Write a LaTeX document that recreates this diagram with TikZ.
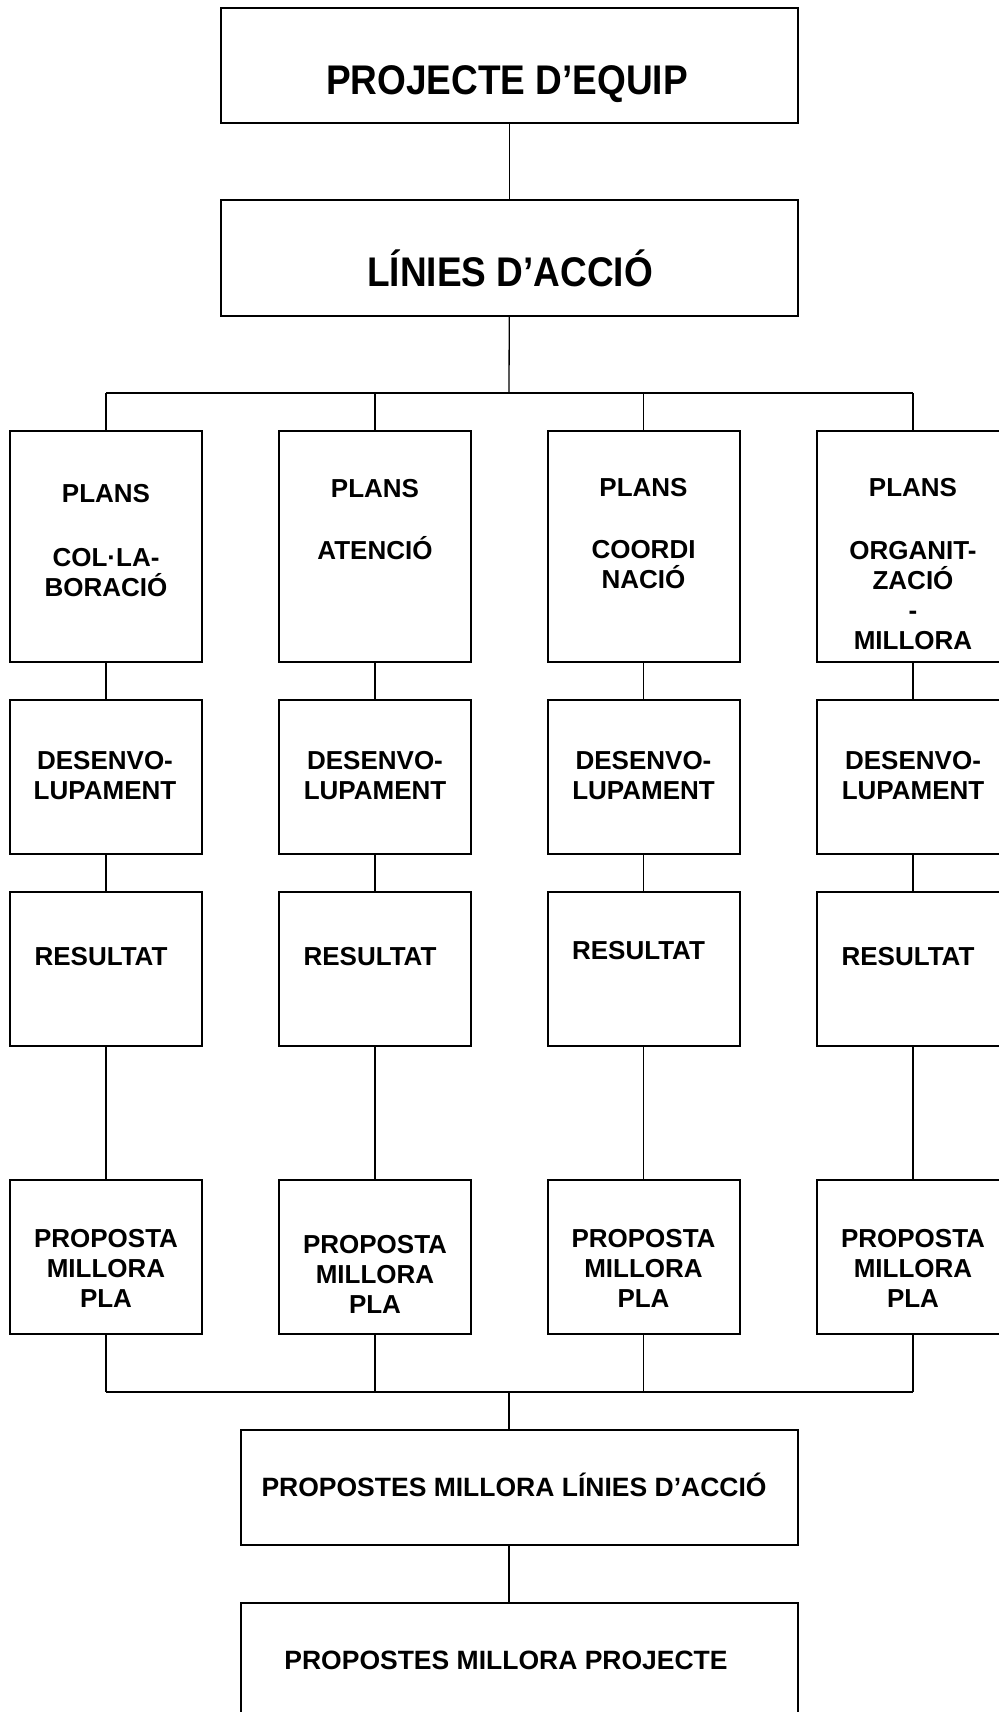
\documentclass[tikz,border=0pt]{standalone}
\usepackage{fontspec}
\setmainfont{Liberation Sans}
\tikzset{
  box/.style={draw=black, line width=2pt, rectangle, inner sep=0pt},
  conn/.style={draw=black, line width=1.3pt},
  bus/.style={draw=black, line width=2pt},
  big/.style={font=\bfseries\fontsize{37}{42}\selectfont, inner sep=0pt, anchor=base},
  lbl/.style={font=\bfseries\fontsize{26}{30}\selectfont, inner sep=0pt, anchor=base, align=center},
  wide/.style={font=\bfseries\fontsize{26.5}{30}\selectfont, inner sep=0pt, anchor=base},
}
\begin{document}
\begin{tikzpicture}[x=1pt,y=-1pt]
\useasboundingbox (0,0) rectangle (998,1712);
% main boxes
\node[box, minimum width=576.5pt, minimum height=115pt] (top) at (509.25,65.5) {};
\node[box, minimum width=576.5pt, minimum height=116pt] (lin) at (509.25,258) {};
\node[box, minimum width=557pt, minimum height=115pt] (m5) at (519.1,1487.5) {};
\node[box, minimum width=557pt, minimum height=157pt] (m6) at (519.1,1681.5) {};
% column boxes
\foreach \i/\cx in {1/106,2/375,3/643.5,4/913}{
  \node[box, minimum width=192pt, minimum height=230.5pt] (p\i) at (\cx,546.25) {};
  \node[box, minimum width=192pt, minimum height=154pt] (d\i) at (\cx,777) {};
  \node[box, minimum width=192pt, minimum height=154pt] (r\i) at (\cx,969) {};
  \node[box, minimum width=192pt, minimum height=154pt] (q\i) at (\cx,1257) {};
}
% bus coordinates
\coordinate (b1) at (509,393.3);
\coordinate (b2) at (509,1392);
% connectors
\draw[conn] (top.south) -- (lin.north);
\draw[conn] (lin.south) -- (b1);
\draw[bus] (p1.north |- b1) -- (p4.north |- b1);
\foreach \i in {1,2,3,4}{
  \draw[conn] (p\i.north |- b1) -- (p\i.north);
  \draw[conn] (p\i.south) -- (d\i.north);
  \draw[conn] (d\i.south) -- (r\i.north);
  \draw[conn] (r\i.south) -- (q\i.north);
  \draw[conn] (q\i.south) -- (q\i.south |- b2);
}
\draw[bus] (q1.south |- b2) -- (q4.south |- b2);
\draw[conn] (b2) -- (b2 |- m5.north);
\draw[conn] (m5.south -| b2) -- (m6.north -| b2);
% texts (anchor base = baseline of the last line)
\node[big] (t0) at (507,94.5) {\scalebox{1}[1.12]{PROJECTE D’EQUIP}};
\node[big] (t1) at (510,287) {\scalebox{1}[1.12]{LÍNIES D’ACCIÓ}};
\node[lbl] (tp1) at (106,596) {PLANS\\[34pt]COL·LA-\\BORACIÓ};
\node[lbl] (tp2) at (375,559.3) {PLANS\\[32pt]ATENCIÓ};
\node[lbl] (tp3) at (643.5,588.3) {PLANS\\[32pt]COORDI\\NACIÓ};
\node[lbl] (tp4) at (913,649.5) {PLANS\\[33pt]ORGANIT-\\ZACIÓ\\-\\MILLORA};
\foreach \i/\cx in {1/105,2/375,3/643.5,4/913}{
  \node[lbl] (td\i) at (\cx,799) {DESENVO-\\LUPAMENT};
}
\node[lbl] (tr1) at (101,965) {RESULTAT};
\node[lbl] (tr2) at (370,965) {RESULTAT};
\node[lbl] (tr3) at (638.5,959.3) {RESULTAT};
\node[lbl] (tr4) at (908,965) {RESULTAT};
\node[lbl] (tq1) at (106,1307) {PROPOSTA\\MILLORA\\PLA};
\node[lbl] (tq2) at (375,1313) {PROPOSTA\\MILLORA\\PLA};
\node[lbl] (tq3) at (643.5,1307) {PROPOSTA\\MILLORA\\PLA};
\node[lbl] (tq4) at (913,1307) {PROPOSTA\\MILLORA\\PLA};
\node[wide] (t5) at (514,1496.7) {PROPOSTES MILLORA LÍNIES D’ACCIÓ};
\node[wide] (t6) at (506,1669) {PROPOSTES MILLORA PROJECTE};
\end{tikzpicture}
\end{document}
